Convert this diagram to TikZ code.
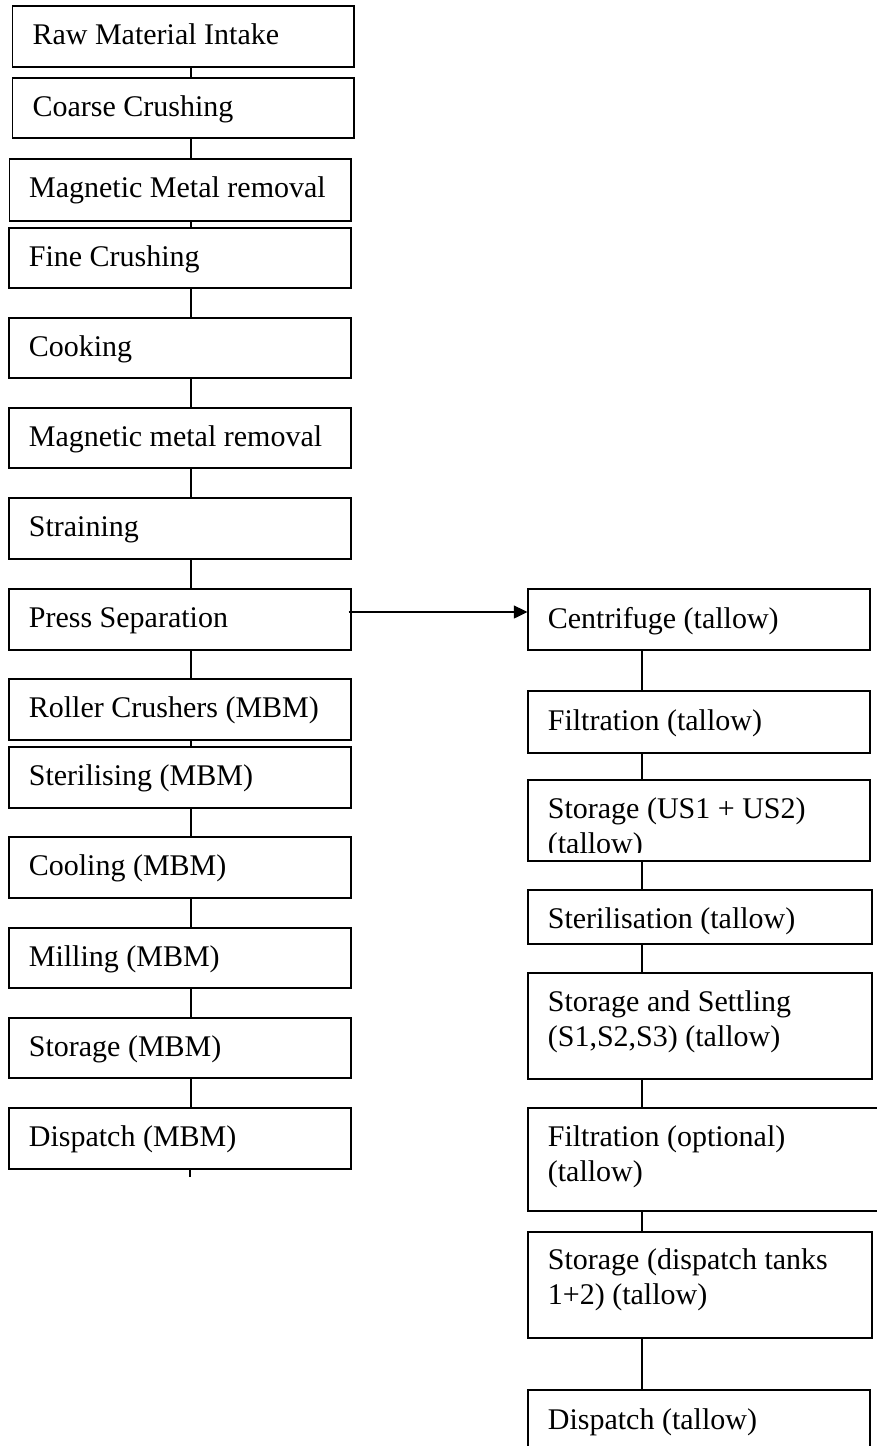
\documentclass[tikz,border=0pt]{standalone}
\usepackage{fontspec}
\setmainfont{Liberation Serif}
\usetikzlibrary{positioning,calc,fit,arrows.meta}

\tikzset{
  box/.style={draw, line width=0.5pt, inner sep=0pt},
  lbl/.style={anchor=north west, inner sep=0pt, align=left,
    font=\fontsize{12}{13.8}\selectfont, execute at begin node=\strut},
  link/.style={line width=0.5pt},
}

\begin{document}
\begin{tikzpicture}[x=0.4pt,y=-0.4pt]
    \useasboundingbox (0,0) rectangle (877,1446);
    \coordinate (spineL) at (191,0);
    \coordinate (spineR) at (642,0);

    % Meal line (MBM)
    \foreach \n/\xa/\ya/\xb/\yb/\t in {
        b1/12.7/6/354/67/Raw Material Intake,
        b2/12.7/78/354/138/Coarse Crushing,
        b3/9.3/159/351/221/Magnetic Metal removal,
        b4/9/228/351/288/Fine Crushing,
        b5/9/318/351/378/Cooking,
        b6/9/408/351/468/Magnetic metal removal,
        b7/9/498/351/559/Straining,
        b8/9/589/351/650/Press Separation,
        b9/9/679/351/740/Roller Crushers (MBM),
        b10/9/747/351/808/Sterilising (MBM),
        b11/9/837/351/898/Cooling (MBM),
        b12/9/928/351/988/Milling (MBM),
        b13/9/1018/351/1078/Storage (MBM),
        b14/9/1108/351/1169/Dispatch (MBM)}
    {
        \node [box, fit={(\xa,\ya) (\xb,\yb)}] (\n) {};
        \node [lbl] (\n t) at ($(\n.north west)+(20,14)$) {\t};
    }

    % Tallow line
    \foreach \n/\xa/\ya/\xb/\yb/\dy/\t in {
        r1/528/589/870/650/15/Centrifuge (tallow),
        r2/528/691/870/753/15/Filtration (tallow),
        r4/528/890/872/944/14/Sterilisation (tallow),
        r5/528/973/872/1079/18/{Storage and Settling\\(S1,S2,S3) (tallow)},
        r6/528/1108/880/1211/18/{Filtration (optional)\\(tallow)},
        r7/528/1232/872/1338/17/{Storage (dispatch tanks\\1+2) (tallow)},
        r8/528/1390/870/1460/15/Dispatch (tallow)}
    {
        \node [box, fit={(\xa,\ya) (\xb,\yb)}] (\n) {};
        \node [lbl] (\n t) at ($(\n.north west)+(20,\dy)$) {\t};
    }

    % Storage box, text cut off at the bottom
    \node [box, fit={(528,780) (870,861)}] (r3) {};
    \begin{scope}
        \clip (528,780) rectangle (870,852);
        \node [lbl] (r3t) at ($(r3.north west)+(20,18)$) {Storage (US1 + US2)\\(tallow)};
    \end{scope}

    % Connectors
    \foreach \a/\b in {b1/b2,b2/b3,b3/b4,b4/b5,b5/b6,b6/b7,b7/b8,b8/b9,b9/b10,b10/b11,b11/b12,b12/b13,b13/b14}
        \draw [link] (\a.south -| spineL) -- (\b.north -| spineL);
    \foreach \a/\b in {r1/r2,r2/r3,r3/r4,r4/r5,r5/r6,r6/r7,r7/r8}
        \draw [link] (\a.south -| spineR) -- (\b.north -| spineR);
    \coordinate (stub) at (190,1177);
    \draw [link] (b14.south -| stub) -- (stub);

    % Press to centrifuge
    \draw [link, -{Triangle[length=5.4pt,width=5.2pt]}] ($(b8.east)+(-3,-7.5)$) -- ($(r1.west)+(0,-7.5)$);
\end{tikzpicture}
\end{document}
